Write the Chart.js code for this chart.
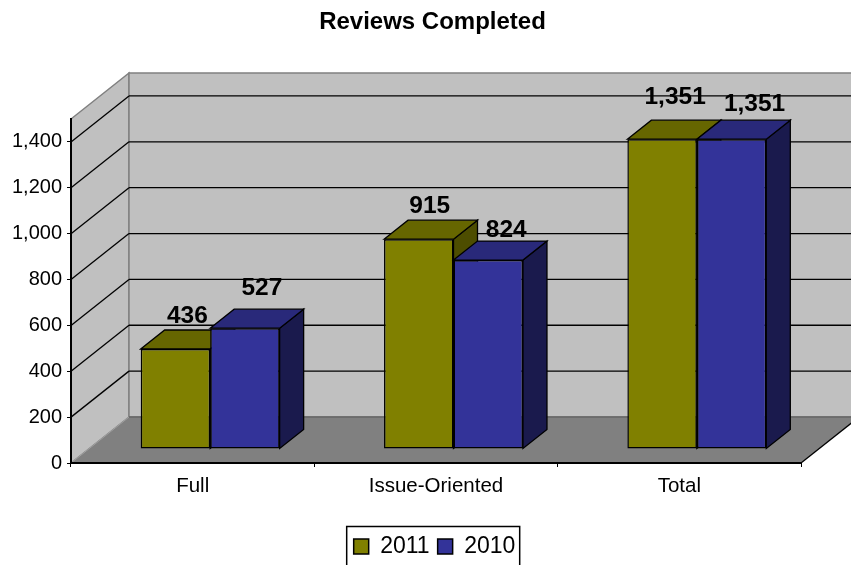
<!DOCTYPE html>
<html>
<head>
<meta charset="utf-8">
<title>Reviews Completed</title>
<script src="https://cdn.jsdelivr.net/npm/chart.js@4/dist/chart.umd.min.js"></script>
<style>
  html, body { margin: 0; padding: 0; background: #fff; }
  canvas { display: block; }
</style>
</head>
<body>
<canvas id="reviewsChart" width="851" height="565"></canvas>
<script>
// Values
const categories = ['Full', 'Issue-Oriented', 'Total'];
const values2011 = [436, 915, 1351];
const values2010 = [527, 824, 1351];
const axisMax = 1500;
const axisStep = 200;

const fontFamily = '"Liberation Sans", Arial, sans-serif';

// Fake 3D: wall depth, where the bars sit on the floor, and how deep a bar is
const wallDepth = { x: 58, y: -46 };
const barShift = { x: 17.5, y: -14 };
const barDepth = { x: 24, y: -19 };

const faceColors = [
    { front: '#808000', top: '#666600', side: '#4d4d00' },
    { front: '#333399', top: '#29297a', side: '#1a1a4d' }
];

// The value labels in the original do not sit at a constant spot over the bars
const labelNudge = [
    [[12, -26], [11, -26], [13, -35]],
    [[17, -33], [18, -23], [23, -28]]
];

function poly(ctx, pts, fill, stroke, width) {
    ctx.beginPath();
    pts.forEach((p, i) => i ? ctx.lineTo(p[0], p[1]) : ctx.moveTo(p[0], p[1]));
    ctx.closePath();
    if (fill) { ctx.fillStyle = fill; ctx.fill(); }
    if (stroke) { ctx.strokeStyle = stroke; ctx.lineWidth = width; ctx.stroke(); }
}

function line(ctx, x1, y1, x2, y2, color, width) {
    ctx.beginPath();
    ctx.moveTo(x1, y1);
    ctx.lineTo(x2, y2);
    ctx.strokeStyle = color;
    ctx.lineWidth = width;
    ctx.stroke();
}

const walls3d = {
    id: 'walls3d',
    afterLayout(chart) {
        // title and legend are centred a bit right of the plot in the original
        chart.titleBlock.left += 32;
        chart.titleBlock.right += 32;
        chart.legend.left += 34;
        chart.legend.right += 34;
        chart.legend.top += 3;
    },
    beforeDraw(chart) {
        const ctx = chart.ctx;
        const { left, right, top, bottom } = chart.chartArea;
        const dx = wallDepth.x, dy = wallDepth.y;
        ctx.save();
        poly(ctx, [[left, top], [left + dx, top + dy], [left + dx, bottom + dy], [left, bottom]], '#c0c0c0', '#808080', 1.5);
        poly(ctx, [[left + dx, top + dy], [right + dx, top + dy], [right + dx, bottom + dy], [left + dx, bottom + dy]], '#c0c0c0', '#808080', 1.5);
        chart.scales.y.ticks.forEach(t => {
            if (t.value === 0) return;
            const y = chart.scales.y.getPixelForValue(t.value);
            line(ctx, left, y, left + dx, y + dy, '#000', 1.3);
            line(ctx, left + dx, y + dy, right + dx, y + dy, '#000', 1.3);
        });
        poly(ctx, [[left, bottom], [left + dx, bottom + dy], [right + dx, bottom + dy], [right, bottom]], '#808080');
        line(ctx, left + dx, bottom + dy, right + dx, bottom + dy, '#666', 1.5);
        line(ctx, left, bottom, left + dx, bottom + dy, '#a0a0a0', 1);
        line(ctx, right, bottom, right + dx, bottom + dy, '#000', 1.3);
        ctx.restore();
    }
};

const bars3d = {
    id: 'bars3d',
    beforeDatasetsDraw(chart) {
        const ctx = chart.ctx;
        // first series first, so the second one lies over its side face
        chart.data.datasets.forEach((ds, i) => {
            const meta = chart.getDatasetMeta(i);
            ctx.save();
            ctx.translate(barShift.x, barShift.y);
            meta.data.forEach(bar => {
                const x0 = bar.x - bar.width / 2, x1 = bar.x + bar.width / 2;
                const dx = barDepth.x, dy = barDepth.y;
                poly(ctx, [[x1, bar.y], [x1 + dx, bar.y + dy], [x1 + dx, bar.base + dy], [x1, bar.base]], faceColors[i].side, '#000', 1.3);
                poly(ctx, [[x0, bar.y], [x0 + dx, bar.y + dy], [x1 + dx, bar.y + dy], [x1, bar.y]], faceColors[i].top, '#000', 1.3);
            });
            meta.controller.draw();
            ctx.restore();
        });
    },
    beforeDatasetDraw() {
        return false;
    },
    afterDatasetsDraw(chart) {
        const ctx = chart.ctx;
        ctx.save();
        ctx.font = 'bold 24.5px ' + fontFamily;
        ctx.fillStyle = '#000';
        ctx.textAlign = 'center';
        ctx.textBaseline = 'alphabetic';
        chart.data.datasets.forEach((ds, i) => {
            chart.getDatasetMeta(i).data.forEach((bar, j) => {
                const n = labelNudge[i][j];
                ctx.fillText(ds.data[j].toLocaleString('en-US'), bar.x + barShift.x + n[0], bar.y + barShift.y + n[1]);
            });
        });
        ctx.restore();
    },
    afterDraw(chart) {
        // border round the legend
        const first = chart.legend.legendHitBoxes[0];
        const ctx = chart.ctx;
        ctx.save();
        ctx.strokeStyle = '#000';
        ctx.lineWidth = 1.5;
        ctx.strokeRect(first.left - 7, 526.5, 173, 45);
        ctx.restore();
    }
};

new Chart(document.getElementById('reviewsChart').getContext('2d'), {
    type: 'bar',
    data: {
        labels: categories,
        datasets: [
            { label: '2011', data: values2011, backgroundColor: faceColors[0].front, borderColor: '#000', borderWidth: 1.5, borderSkipped: false },
            { label: '2010', data: values2010, backgroundColor: faceColors[1].front, borderColor: '#000', borderWidth: 1.5, borderSkipped: false }
        ]
    },
    options: {
        responsive: false,
        animation: false,
        layout: { padding: { left: 0, right: 50, top: 0, bottom: 0 } },
        categoryPercentage: 0.571,
        barPercentage: 1,
        scales: {
            x: {
                grid: { drawOnChartArea: false, color: '#000', tickLength: 4 },
                border: { color: '#000', width: 2 },
                ticks: { color: '#000', font: { family: fontFamily, size: 20.5 }, padding: 7, maxRotation: 0 },
                afterFit(scale) { scale.height = 102 - scale.chart.legend.height; }
            },
            y: {
                min: 0,
                max: axisMax,
                grid: { drawOnChartArea: false, color: '#000', tickLength: 4 },
                border: { color: '#000', width: 2 },
                ticks: { stepSize: axisStep, includeBounds: false, color: '#000', font: { family: fontFamily, size: 20 }, padding: 5 },
                afterFit(scale) { scale.width = 71; }
            }
        },
        plugins: {
            title: {
                display: true,
                text: 'Reviews Completed',
                color: '#000',
                font: { family: fontFamily, size: 24, weight: 'bold' },
                padding: { top: 8, bottom: 82.2 }
            },
            legend: {
                position: 'bottom',
                labels: { color: '#000', font: { family: fontFamily, size: 23 }, boxWidth: 15, boxHeight: 15, padding: 8 }
            },
            tooltip: { enabled: false }
        }
    },
    plugins: [walls3d, bars3d]
});
</script>
</body>
</html>
